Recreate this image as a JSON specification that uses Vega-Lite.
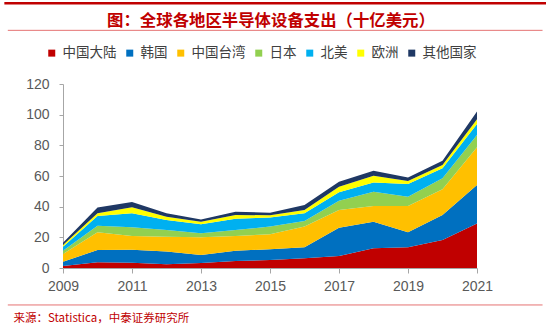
{
  "$schema": "https://vega.github.io/schema/vega-lite/v6.json",
  "autosize": "none",
  "width": 414,
  "height": 184,
  "padding": {"left": 63, "top": 84, "right": 73, "bottom": 61},
  "background": "white",
  "config": {"view": {"stroke": null}, "font": "Noto Sans CJK SC"},
  "title": {
    "text": "图：全球各地区半导体设备支出（十亿美元）",
    "color": "#C00000",
    "fontSize": 16.4,
    "fontWeight": "bold",
    "font": "Noto Sans CJK SC",
    "anchor": "middle",
    "frame": "group",
    "baseline": "middle",
    "offset": 0,
    "dy": 35,
    "dx": 1
  },
  "resolve": {"scale": {"x": "independent", "y": "independent"}},
  "datasets": {
    "ranks": [
      {"region": "中国大陆", "rank": 1},
      {"region": "韩国", "rank": 2},
      {"region": "中国台湾", "rank": 3},
      {"region": "日本", "rank": 4},
      {"region": "北美", "rank": 5},
      {"region": "欧洲", "rank": 6},
      {"region": "其他国家", "rank": 7}
    ],
    "spend": [
      {"year": 2009, "region": "中国大陆", "value": 1.3},
      {"year": 2009, "region": "韩国", "value": 2.8},
      {"year": 2009, "region": "中国台湾", "value": 5.0},
      {"year": 2009, "region": "日本", "value": 2.2},
      {"year": 2009, "region": "北美", "value": 2.6},
      {"year": 2009, "region": "欧洲", "value": 1.1},
      {"year": 2009, "region": "其他国家", "value": 1.5},
      {"year": 2010, "region": "中国大陆", "value": 3.7},
      {"year": 2010, "region": "韩国", "value": 8.0},
      {"year": 2010, "region": "中国台湾", "value": 11.6},
      {"year": 2010, "region": "日本", "value": 4.3},
      {"year": 2010, "region": "北美", "value": 6.3},
      {"year": 2010, "region": "欧洲", "value": 1.8},
      {"year": 2010, "region": "其他国家", "value": 3.7},
      {"year": 2011, "region": "中国大陆", "value": 3.5},
      {"year": 2011, "region": "韩国", "value": 8.4},
      {"year": 2011, "region": "中国台湾", "value": 9.0},
      {"year": 2011, "region": "日本", "value": 5.6},
      {"year": 2011, "region": "北美", "value": 9.2},
      {"year": 2011, "region": "欧洲", "value": 3.9},
      {"year": 2011, "region": "其他国家", "value": 3.4},
      {"year": 2012, "region": "中国大陆", "value": 2.4},
      {"year": 2012, "region": "韩国", "value": 8.3},
      {"year": 2012, "region": "中国台湾", "value": 9.7},
      {"year": 2012, "region": "日本", "value": 4.4},
      {"year": 2012, "region": "北美", "value": 6.5},
      {"year": 2012, "region": "欧洲", "value": 2.2},
      {"year": 2012, "region": "其他国家", "value": 2.2},
      {"year": 2013, "region": "中国大陆", "value": 3.2},
      {"year": 2013, "region": "韩国", "value": 5.3},
      {"year": 2013, "region": "中国台湾", "value": 11.5},
      {"year": 2013, "region": "日本", "value": 2.6},
      {"year": 2013, "region": "北美", "value": 5.9},
      {"year": 2013, "region": "欧洲", "value": 1.7},
      {"year": 2013, "region": "其他国家", "value": 1.5},
      {"year": 2014, "region": "中国大陆", "value": 4.6},
      {"year": 2014, "region": "韩国", "value": 6.7},
      {"year": 2014, "region": "中国台湾", "value": 9.6},
      {"year": 2014, "region": "日本", "value": 3.9},
      {"year": 2014, "region": "北美", "value": 7.4},
      {"year": 2014, "region": "欧洲", "value": 2.4},
      {"year": 2014, "region": "其他国家", "value": 2.1},
      {"year": 2015, "region": "中国大陆", "value": 5.2},
      {"year": 2015, "region": "韩国", "value": 7.0},
      {"year": 2015, "region": "中国台湾", "value": 9.8},
      {"year": 2015, "region": "日本", "value": 5.0},
      {"year": 2015, "region": "北美", "value": 6.0},
      {"year": 2015, "region": "欧洲", "value": 1.4},
      {"year": 2015, "region": "其他国家", "value": 1.7},
      {"year": 2016, "region": "中国大陆", "value": 6.3},
      {"year": 2016, "region": "韩国", "value": 7.2},
      {"year": 2016, "region": "中国台湾", "value": 13.5},
      {"year": 2016, "region": "日本", "value": 3.7},
      {"year": 2016, "region": "北美", "value": 5.0},
      {"year": 2016, "region": "欧洲", "value": 2.1},
      {"year": 2016, "region": "其他国家", "value": 3.3},
      {"year": 2017, "region": "中国大陆", "value": 7.8},
      {"year": 2017, "region": "韩国", "value": 18.5},
      {"year": 2017, "region": "中国台湾", "value": 11.5},
      {"year": 2017, "region": "日本", "value": 6.1},
      {"year": 2017, "region": "北美", "value": 5.5},
      {"year": 2017, "region": "欧洲", "value": 3.6},
      {"year": 2017, "region": "其他国家", "value": 3.3},
      {"year": 2018, "region": "中国大陆", "value": 12.8},
      {"year": 2018, "region": "韩国", "value": 17.4},
      {"year": 2018, "region": "中国台湾", "value": 10.2},
      {"year": 2018, "region": "日本", "value": 9.4},
      {"year": 2018, "region": "北美", "value": 5.9},
      {"year": 2018, "region": "欧洲", "value": 4.5},
      {"year": 2018, "region": "其他国家", "value": 3.3},
      {"year": 2019, "region": "中国大陆", "value": 13.5},
      {"year": 2019, "region": "韩国", "value": 9.8},
      {"year": 2019, "region": "中国台湾", "value": 17.1},
      {"year": 2019, "region": "日本", "value": 6.1},
      {"year": 2019, "region": "北美", "value": 8.3},
      {"year": 2019, "region": "欧洲", "value": 2.0},
      {"year": 2019, "region": "其他国家", "value": 2.3},
      {"year": 2020, "region": "中国大陆", "value": 18.3},
      {"year": 2020, "region": "韩国", "value": 16.3},
      {"year": 2020, "region": "中国台湾", "value": 16.7},
      {"year": 2020, "region": "日本", "value": 7.2},
      {"year": 2020, "region": "北美", "value": 6.5},
      {"year": 2020, "region": "欧洲", "value": 2.2},
      {"year": 2020, "region": "其他国家", "value": 2.8},
      {"year": 2021, "region": "中国大陆", "value": 29.1},
      {"year": 2021, "region": "韩国", "value": 25.0},
      {"year": 2021, "region": "中国台湾", "value": 24.6},
      {"year": 2021, "region": "日本", "value": 8.1},
      {"year": 2021, "region": "北美", "value": 7.1},
      {"year": 2021, "region": "欧洲", "value": 3.1},
      {"year": 2021, "region": "其他国家", "value": 5.0}
    ]
  },
  "layer": [
    {
      "data": {"name": "spend"},
      "transform": [
        {"lookup": "region", "from": {"data": {"name": "ranks"}, "key": "region", "fields": ["rank"]}}
      ],
      "mark": {"type": "area", "interpolate": "linear"},
      "encoding": {
        "x": {
          "field": "year",
          "type": "quantitative",
          "scale": {"domain": [2009, 2021], "nice": false, "zero": false},
          "axis": {
            "values": [2009, 2011, 2013, 2015, 2017, 2019, 2021],
            "format": "d",
            "grid": false,
            "labelFlush": false,
            "labelOverlap": false,
            "domainColor": "#A6A6A6",
            "tickColor": "#A6A6A6",
            "tickSize": 5,
            "labelFont": "Liberation Sans",
            "labelFontSize": 14,
            "labelColor": "#595959",
            "labelPadding": 6,
            "title": "来源：Statistica，中泰证券研究所",
            "titleFont": "Noto Sans CJK SC",
            "titleFontSize": 11.5,
            "titleFontWeight": "normal",
            "titleColor": "#C00000",
            "titleAnchor": "start",
            "titleAlign": "left",
            "titleBaseline": "middle",
            "titleX": -50,
            "titleY": 50
          }
        },
        "y": {
          "field": "value",
          "type": "quantitative",
          "stack": "zero",
          "scale": {"domain": [0, 120], "nice": false},
          "axis": {
            "values": [0, 20, 40, 60, 80, 100, 120],
            "grid": false,
            "title": null,
            "labelOverlap": false,
            "domainColor": "#A6A6A6",
            "tickColor": "#A6A6A6",
            "tickSize": 4,
            "labelFont": "Liberation Sans",
            "labelFontSize": 14,
            "labelColor": "#595959",
            "labelPadding": 10
          }
        },
        "order": {"field": "rank", "type": "quantitative", "sort": "ascending"},
        "color": {
          "field": "region",
          "type": "nominal",
          "sort": ["中国大陆", "韩国", "中国台湾", "日本", "北美", "欧洲", "其他国家"],
          "scale": {
            "domain": ["中国大陆", "韩国", "中国台湾", "日本", "北美", "欧洲", "其他国家"],
            "range": ["#C00000", "#0070C0", "#FFC000", "#92D050", "#00B0F0", "#FFFF00", "#1F3864"]
          },
          "legend": {
            "title": null,
            "orient": "none",
            "direction": "horizontal",
            "legendX": -18,
            "legendY": -38,
            "symbolType": "square",
            "symbolSize": 49,
            "symbolStrokeWidth": 0,
            "labelFont": "Noto Sans CJK SC",
            "labelFontSize": 13.5,
            "labelColor": "#404040",
            "labelOffset": 4,
            "columnPadding": 6
          }
        }
      }
    },
    {
      "data": {"values": [{}]},
      "mark": {"type": "rule", "color": "#C00000", "strokeWidth": 2.5},
      "encoding": {
        "x": {"datum": 2007.3, "scale": {"domain": [2009, 2021], "nice": false, "zero": false}, "axis": null},
        "x2": {"datum": 2023.0},
        "y": {"datum": 172.6, "scale": {"domain": [0, 120], "nice": false}, "axis": null}
      }
    },
    {
      "data": {"values": [{}]},
      "mark": {"type": "rule", "color": "#E57373", "strokeWidth": 1},
      "encoding": {
        "x": {"datum": 2007.4, "scale": {"domain": [2009, 2021], "nice": false, "zero": false}, "axis": null},
        "x2": {"datum": 2022.9},
        "y": {"datum": 155.0, "scale": {"domain": [0, 120], "nice": false}, "axis": null}
      }
    },
    {
      "data": {"values": [{}]},
      "mark": {"type": "rule", "color": "#E57373", "strokeWidth": 1},
      "encoding": {
        "x": {"datum": 2007.4, "scale": {"domain": [2009, 2021], "nice": false, "zero": false}, "axis": null},
        "x2": {"datum": 2022.9},
        "y": {"datum": -24.1, "scale": {"domain": [0, 120], "nice": false}, "axis": null}
      }
    }
  ]
}
